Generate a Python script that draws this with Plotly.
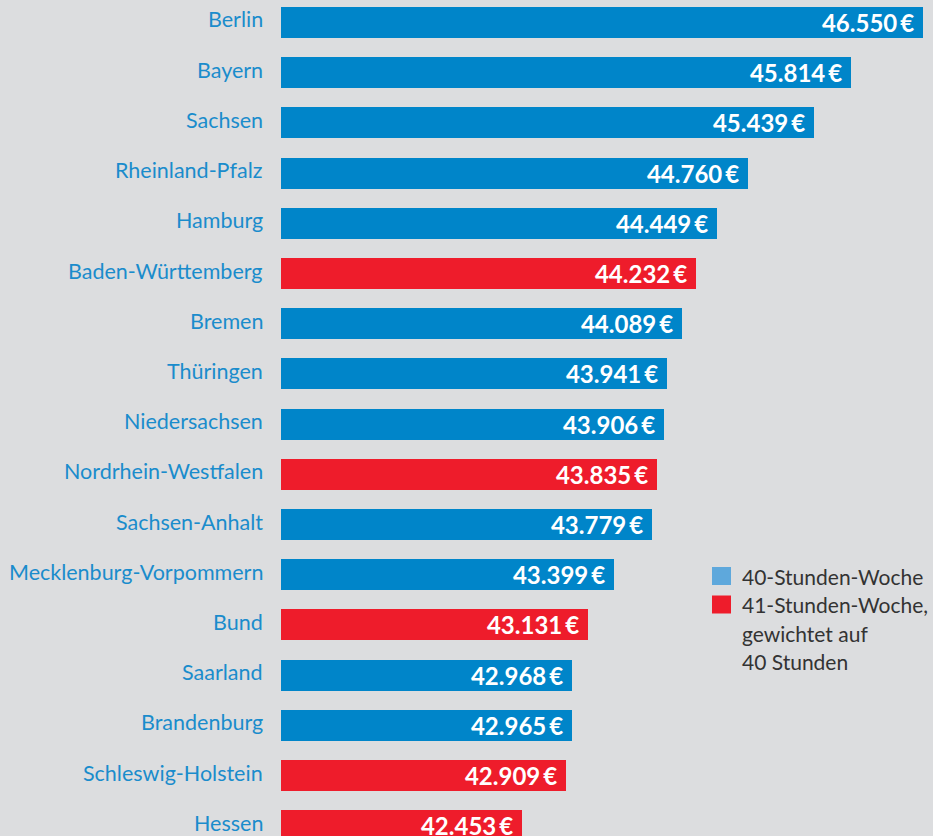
import plotly.graph_objects as go

# Bundesländer, sorted as in the source chart
laender = [
    "Berlin", "Bayern", "Sachsen", "Rheinland-Pfalz", "Hamburg",
    "Baden-Württemberg", "Bremen", "Thüringen", "Niedersachsen",
    "Nordrhein-Westfalen", "Sachsen-Anhalt", "Mecklenburg-Vorpommern",
    "Bund", "Saarland", "Brandenburg", "Schleswig-Holstein", "Hessen",
]
gehalt = [
    46550, 45814, 45439, 44760, 44449, 44232, 44089, 43941, 43906,
    43835, 43779, 43399, 43131, 42968, 42965, 42909, 42453,
]
# 40 = 40-Stunden-Woche, 41 = 41-Stunden-Woche (gewichtet auf 40 Stunden)
wochenstunden = [40, 40, 40, 40, 40, 41, 40, 40, 40, 41, 40, 40, 41, 40, 40, 41, 41]

BLUE = "#0085c9"
RED = "#ee1c2b"
LEGEND_BLUE = "#5ea8dc"
BG = "#dcdddf"
LABEL_BLUE = "#1a8ccc"
FONT = "Lato"

colors = [BLUE if h == 40 else RED for h in wochenstunden]
labels = [f"{v:,}".replace(",", ".") + "\u2009€\u00a0" for v in gehalt]
pos = list(range(len(laender)))

fig = go.Figure()
fig.add_trace(go.Bar(
    x=gehalt,
    y=pos,
    orientation="h",
    marker=dict(color=colors, line=dict(width=0)),
    width=0.62,
    text=labels,
    textposition="inside",
    insidetextanchor="end",
    constraintext="none",
    textfont=dict(family=FONT, size=24, color="white", weight="bold"),
    cliponaxis=True,
    hoverinfo="skip",
    showlegend=False,
))

fig.update_layout(
    width=933,
    height=836,
    paper_bgcolor=BG,
    plot_bgcolor=BG,
    margin=dict(l=281, r=0, t=0, b=0),
    font=dict(family=FONT),
    bargap=0,
)
fig.update_xaxes(range=[40000, 46649], visible=False, fixedrange=True)
fig.update_yaxes(range=[16.205, -0.448], visible=False, fixedrange=True)

# category labels, sitting a little above the bar centre like the original
for i, name in zip(pos, laender):
    fig.add_annotation(
        text=name, xref="paper", yref="y", x=0, y=i,
        xanchor="right", yanchor="middle", xshift=-16, yshift=3,
        showarrow=False,
        font=dict(family=FONT, size=21.5, color=LABEL_BLUE),
    )

# Legend drawn by hand (swatches + text lines)
legend_items = [
    (LEGEND_BLUE, ["40-Stunden-Woche"]),
    (RED, ["41-Stunden-Woche,", "gewichtet auf", "40 Stunden"]),
]
y = 576
for color, lines in legend_items:
    fig.add_shape(type="rect", xref="paper", yref="paper",
                  x0=(712 - 281) / 652, x1=(731 - 281) / 652,
                  y0=1 - (y + 9) / 836, y1=1 - (y - 9) / 836,
                  fillcolor=color, line=dict(width=0))
    for line in lines:
        fig.add_annotation(
            text=line, xref="paper", yref="paper",
            x=(740 - 281) / 652, y=1 - y / 836,
            xanchor="left", yanchor="middle", showarrow=False,
            font=dict(family=FONT, size=21, color="#333333"),
        )
        y += 28.5

fig.write_html("out.html", config={"displayModeBar": False},
               post_script="document.body.style.margin='0';")
